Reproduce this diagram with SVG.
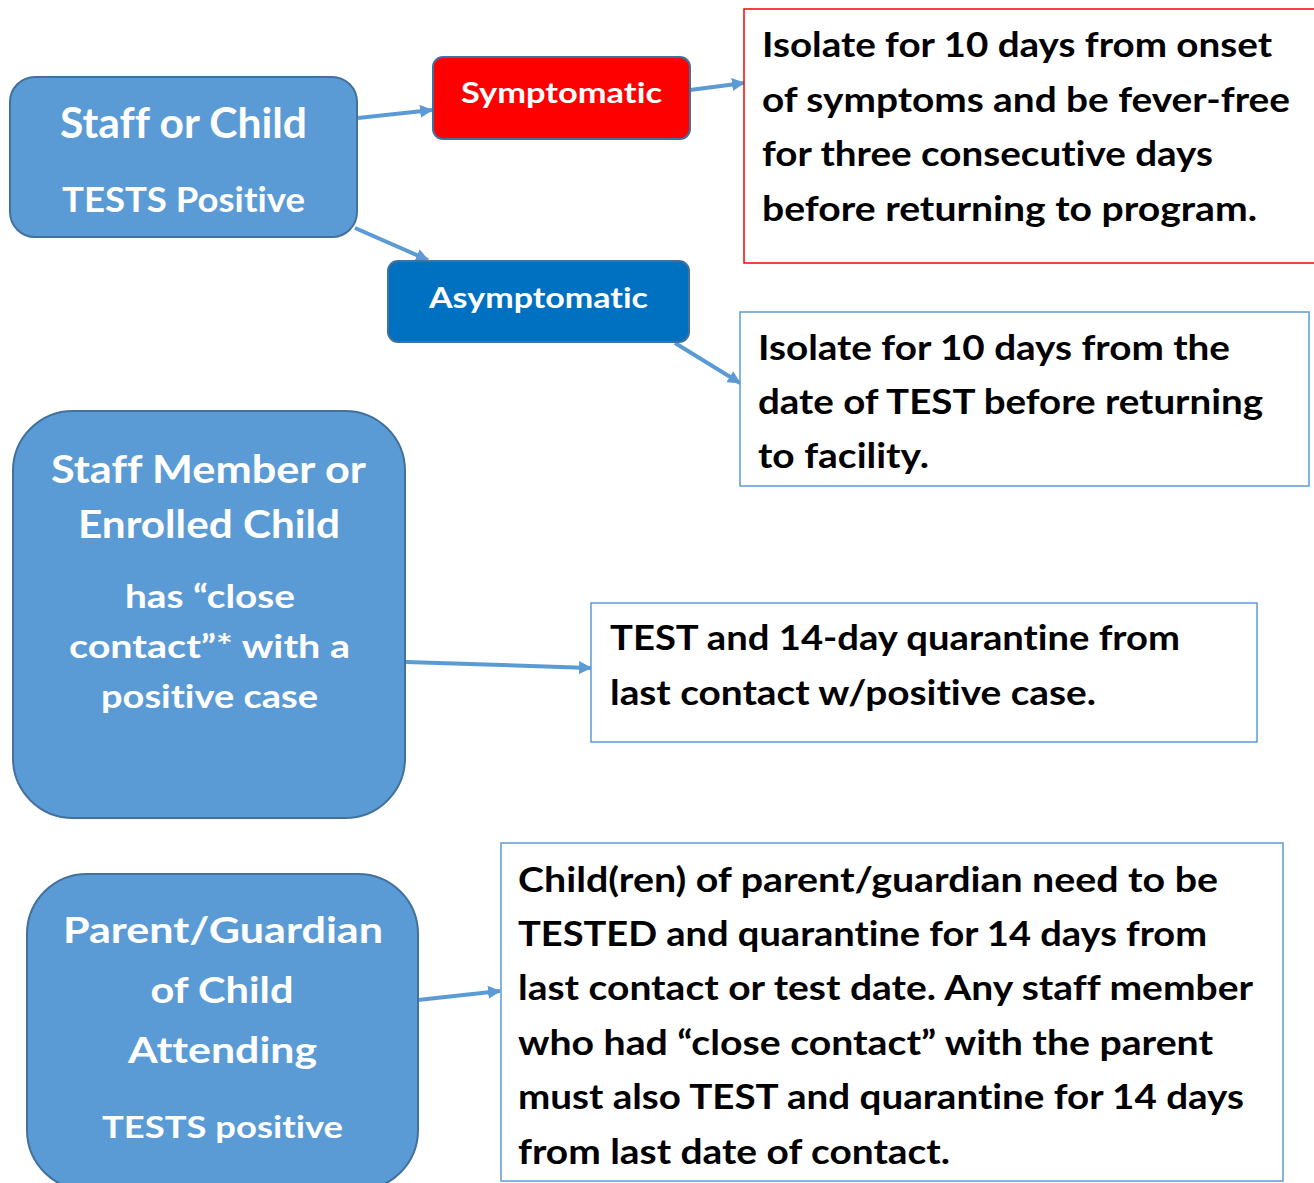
<svg xmlns="http://www.w3.org/2000/svg" width="1314" height="1183" viewBox="0 0 1314 1183">
<style>
text{font-variant-ligatures:none;font-feature-settings:"liga" 0,"dlig" 0}
.node{fill:#5B9BD5;stroke:#41719C;stroke-width:2}
.wt{fill:#FFFFFF;font-family:Lato,"Open Sans",sans-serif;font-weight:bold;text-anchor:middle}
.bt{fill:#000000;font-family:Lato,"Open Sans",sans-serif;font-weight:bold;font-size:35px}
.box{fill:#FFFFFF;stroke:#5B9BD5;stroke-width:1.5}
.conn{stroke:#5B9BD5;stroke-width:4;fill:none;marker-end:url(#arr)}
</style>
<defs>
<marker id="arr" markerUnits="userSpaceOnUse" markerWidth="13" markerHeight="13" refX="12" refY="6.5" orient="auto">
<path d="M0,0 L13,6.5 L0,13 z" fill="#5B9BD5"/>
</marker>
</defs>
<rect width="1314" height="1183" fill="#FFFFFF"/>

<g id="connectors">
<line class="conn" x1="358" y1="118" x2="432" y2="110"/>
<line class="conn" x1="690" y1="90" x2="744" y2="83"/>
<line class="conn" x1="355" y1="228" x2="428" y2="260"/>
<line class="conn" x1="675" y1="343" x2="740" y2="383"/>
<line class="conn" x1="406" y1="662" x2="591" y2="668"/>
<line class="conn" x1="418" y1="1000" x2="500" y2="991"/>
</g>

<g id="n-staff-child">
<rect class="node" x="10" y="77" width="347" height="160" rx="25"/>
<text class="wt" x="183.5" y="138" font-size="42" textLength="247" lengthAdjust="spacingAndGlyphs">Staff or Child</text>
<text class="wt" x="183.5" y="212" font-size="35" textLength="243" lengthAdjust="spacingAndGlyphs">TESTS Positive</text>
</g>

<g id="n-symptomatic">
<rect x="433" y="57" width="257" height="82" rx="10" fill="#FF0000" stroke="#41719C" stroke-width="2"/>
<text class="wt" x="561.5" y="103" font-size="28" textLength="201" lengthAdjust="spacingAndGlyphs">Symptomatic</text>
</g>

<g id="n-asymptomatic">
<rect x="388" y="261" width="301" height="81" rx="10" fill="#0070C0" stroke="#41719C" stroke-width="2"/>
<text class="wt" x="538.5" y="308" font-size="28" textLength="219" lengthAdjust="spacingAndGlyphs">Asymptomatic</text>
</g>

<g id="n-isolate-symptoms">
<rect x="744" y="9" width="580" height="254" fill="#FFFFFF" stroke="#FF0000" stroke-width="1.5"/>
<text class="bt" x="762" y="57" textLength="510" lengthAdjust="spacingAndGlyphs">Isolate for 10 days from onset</text>
<text class="bt" x="762" y="112" textLength="528" lengthAdjust="spacingAndGlyphs">of symptoms and be fever-free</text>
<text class="bt" x="762" y="166" textLength="451" lengthAdjust="spacingAndGlyphs">for three consecutive days</text>
<text class="bt" x="762" y="221" textLength="495" lengthAdjust="spacingAndGlyphs">before returning to program.</text>
</g>

<g id="n-isolate-test">
<rect class="box" x="740" y="312" width="569" height="174"/>
<text class="bt" x="758" y="360" textLength="472" lengthAdjust="spacingAndGlyphs">Isolate for 10 days from the</text>
<text class="bt" x="758" y="414" textLength="505" lengthAdjust="spacingAndGlyphs">date of TEST before returning</text>
<text class="bt" x="758" y="468" textLength="171" lengthAdjust="spacingAndGlyphs">to facility.</text>
</g>

<g id="n-close-contact">
<rect class="node" x="13" y="411" width="392" height="407" rx="60"/>
<text class="wt" x="208.5" y="483" font-size="39" textLength="315" lengthAdjust="spacingAndGlyphs">Staff Member or</text>
<text class="wt" x="209" y="538" font-size="39" textLength="262" lengthAdjust="spacingAndGlyphs">Enrolled Child</text>
<text class="wt" x="210" y="608" font-size="32" textLength="170" lengthAdjust="spacingAndGlyphs">has “close</text>
<text class="wt" x="209.5" y="658" font-size="32" textLength="281" lengthAdjust="spacingAndGlyphs">contact”* with a</text>
<text class="wt" x="209.5" y="708" font-size="32" textLength="217" lengthAdjust="spacingAndGlyphs">positive case</text>
</g>

<g id="n-quarantine">
<rect class="box" x="591" y="603" width="666" height="139"/>
<text class="bt" x="610" y="650" textLength="570" lengthAdjust="spacingAndGlyphs">TEST and 14-day quarantine from</text>
<text class="bt" x="610" y="705" textLength="486" lengthAdjust="spacingAndGlyphs">last contact w/positive case.</text>
</g>

<g id="n-parent">
<rect class="node" x="27" y="874" width="391" height="316" rx="60"/>
<text class="wt" x="223" y="943" font-size="37" textLength="320" lengthAdjust="spacingAndGlyphs">Parent/Guardian</text>
<text class="wt" x="222" y="1003" font-size="37" textLength="143" lengthAdjust="spacingAndGlyphs">of Child</text>
<text class="wt" x="222.5" y="1063" font-size="37" textLength="189" lengthAdjust="spacingAndGlyphs">Attending</text>
<text class="wt" x="222.5" y="1138" font-size="30" textLength="241" lengthAdjust="spacingAndGlyphs">TESTS positive</text>
</g>

<g id="n-children">
<rect class="box" x="501" y="843" width="782" height="338"/>
<text class="bt" x="518" y="892" textLength="700" lengthAdjust="spacingAndGlyphs">Child(ren) of parent/guardian need to be</text>
<text class="bt" x="518" y="946" textLength="689" lengthAdjust="spacingAndGlyphs">TESTED and quarantine for 14 days from</text>
<text class="bt" x="518" y="1000" textLength="735" lengthAdjust="spacingAndGlyphs">last contact or test date. Any staff member</text>
<text class="bt" x="518" y="1055" textLength="695" lengthAdjust="spacingAndGlyphs">who had “close contact” with the parent</text>
<text class="bt" x="518" y="1109" textLength="726" lengthAdjust="spacingAndGlyphs">must also TEST and quarantine for 14 days</text>
<text class="bt" x="518" y="1164" textLength="432" lengthAdjust="spacingAndGlyphs">from last date of contact.</text>
</g>
</svg>
